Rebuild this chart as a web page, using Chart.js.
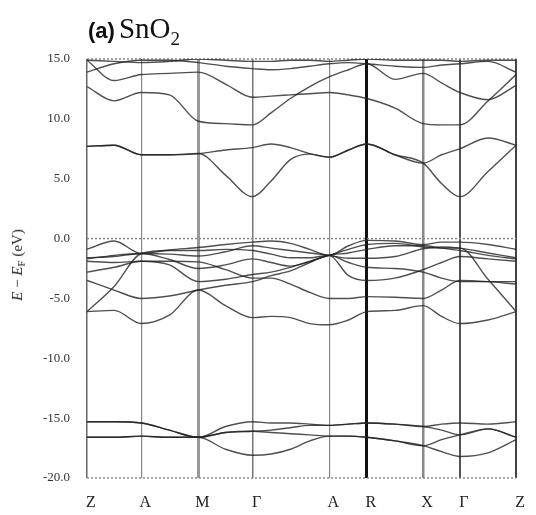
<!DOCTYPE html>
<html>
<head>
<meta charset="utf-8">
<script src="https://cdn.jsdelivr.net/npm/chart.js@4.4.1/dist/chart.umd.min.js"></script>
<style>
  html, body { margin: 0; padding: 0; background: #fff; }
  #wrap { position: relative; width: 536px; height: 515px; }
  #title { position: absolute; left: 88px; top: 12px; white-space: nowrap; line-height: 1; color: #111; }
  #title .tag { font: bold 22px "Liberation Sans", Arial, sans-serif; }
  #title .formula { font: 29px "Liberation Serif", "Times New Roman", serif; }
  #title sub { font-size: 19px; vertical-align: -7px; }
  #ylab { position: absolute; left: 18px; top: 265px; white-space: nowrap; line-height: 1;
          font: 15px "Liberation Serif", "Times New Roman", serif; color: #222;
          transform: translate(-50%, -50%) rotate(-90deg); }
  #ylab sub { font-size: 11px; vertical-align: -3px; }
</style>
</head>
<body>
<div id="wrap">
  <canvas id="bands" width="536" height="515"></canvas>
  <div id="title"><span class="tag">(a)</span> <span class="formula">SnO<sub>2</sub></span></div>
  <div id="ylab"><i>E</i> − <i>E</i><sub>F</sub> (eV)</div>
</div>
<script>
// high-symmetry points along the k path (arbitrary path length units)
const kTicks = [0, 56, 115, 171, 250, 289, 347, 385, 443];
const kLabels = ["Z", "A", "M", "Γ", "A", "R", "X", "Γ", "Z"];

const kGrid = [0, 28, 56, 85, 115, 143, 171, 190, 210, 230, 250, 270, 289, 318, 347, 366, 385, 414, 443];

// conduction bands (eV)
const cb1 = [14.9, 14.8, 14.7, 14.8, 15.0, 14.9, 14.8, 14.8, 14.9, 14.9, 14.8, 14.9, 15.0, 14.9, 14.9, 14.9, 14.8, 14.9, 14.9];
const cb2 = [13.9, 14.6, 14.9, 14.9, 14.7, 14.4, 14.2, 14.1, 14.2, 14.4, 14.6, 14.7, 14.6, 14.4, 14.3, 14.5, 14.6, 14.8, 13.9];
const cb3 = [14.9, 13.2, 13.7, 13.8, 13.9, 12.9, 11.8, 11.9, 12.0, 12.1, 12.2, 12.0, 11.7, 10.9, 9.6, 9.5, 9.5, 11.5, 13.7];
const cb4 = [12.7, 11.5, 12.2, 12.0, 9.8, 9.6, 9.5, 10.5, 11.7, 12.7, 13.5, 14.1, 14.6, 13.3, 13.8, 13.0, 12.2, 11.6, 12.8];
const cb5 = [7.7, 7.8, 7.0, 7.0, 7.1, 7.4, 7.6, 7.9, 7.6, 7.1, 6.8, 7.4, 7.9, 7.0, 6.3, 7.0, 7.5, 8.4, 7.8];
const cb6 = [7.7, 7.8, 7.0, 7.0, 7.1, 5.3, 3.5, 4.8, 6.6, 7.05, 6.8, 7.4, 7.9, 7.0, 6.3, 4.6, 3.5, 5.6, 7.8];

// valence bands (eV)
const vb1 = [-0.9, -0.2, -1.25, -0.95, -0.75, -0.5, -0.3, -0.2, -0.4, -0.9, -1.4, -0.6, -0.15, -0.2, -0.5, -0.3, -0.3, -0.5, -0.9];
const vb2 = [-1.6, -1.5, -1.25, -1.3, -1.45, -1.1, -0.6, -0.8, -1.0, -1.2, -1.4, -1.65, -1.65, -1.5, -0.85, -0.7, -0.8, -1.2, -1.6];
const vb3 = [-1.7, -1.4, -1.25, -1.75, -2.5, -2.2, -1.7, -2.0, -2.3, -1.9, -1.4, -1.2, -0.9, -0.6, -0.6, -0.8, -1.0, -1.4, -1.7];
const vb4 = [-1.9, -2.0, -1.9, -1.9, -1.95, -2.6, -3.3, -3.3, -3.8, -4.5, -5.0, -5.0, -4.85, -4.9, -5.0, -4.3, -3.5, -3.6, -3.8];
const vb5 = [-6.1, -4.0, -1.25, -1.0, -1.0, -0.9, -1.0, -1.3, -1.6, -1.6, -1.4, -3.1, -3.5, -3.3, -2.6, -2.0, -1.5, -1.7, -1.9];
const vb6 = [-3.5, -4.3, -5.0, -4.8, -4.3, -3.9, -3.6, -3.1, -2.7, -2.0, -1.4, -2.0, -2.4, -2.5, -2.8, -3.3, -3.6, -3.6, -3.6];
const vb7 = [-6.1, -6.0, -7.1, -6.4, -4.3, -5.6, -6.6, -6.5, -6.6, -7.1, -7.2, -6.8, -6.1, -6.0, -5.6, -6.5, -7.1, -6.8, -6.1];
const vb8 = [-2.8, -2.4, -1.9, -2.2, -3.6, -3.4, -3.0, -2.8, -2.4, -1.9, -1.4, -0.9, -0.5, -0.4, -0.7, -0.8, -0.8, -3.4, -6.1];

// O 2s bands (eV)
const sb1 = [-15.3, -15.3, -15.4, -16.0, -16.6, -15.7, -15.3, -15.4, -15.4, -15.5, -15.6, -15.5, -15.4, -15.5, -15.7, -15.5, -15.4, -15.5, -15.3];
const sb2 = [-16.6, -16.6, -16.5, -16.6, -16.6, -16.2, -16.1, -16.0, -15.8, -15.6, -15.6, -15.5, -15.4, -15.5, -15.7, -16.0, -16.4, -15.9, -16.6];
const sb3 = [-16.6, -16.6, -16.5, -16.6, -16.6, -17.6, -18.1, -18.0, -17.6, -16.9, -16.5, -16.5, -16.6, -16.9, -17.3, -17.8, -18.2, -17.9, -16.8];
const sb4 = [-15.3, -15.3, -15.4, -16.0, -16.6, -16.2, -16.1, -16.2, -16.3, -16.4, -16.5, -16.5, -16.6, -16.9, -17.3, -16.8, -16.4, -15.9, -16.6];

const bands = [cb1, cb2, cb3, cb4, cb5, cb6, vb1, vb2, vb3, vb4, vb5, vb6, vb7, vb8, sb1, sb2, sb3, sb4];

// look of the vertical lines at the high-symmetry points
const kLineColors = ["#666", "#888", "#999", "#777", "#888", "#111", "#888", "#555", "#444"];
const kLineWidths = [1.5, 1.2, 3, 1.5, 1.2, 3, 2.5, 2, 2];

// dotted frame top/bottom plus the Fermi level
const framePlugin = {
  id: "frame",
  beforeDatasetsDraw(chart) {
    const { ctx, chartArea: a, scales } = chart;
    const y0 = scales.y.getPixelForValue(0);
    ctx.save();
    ctx.strokeStyle = "#888";
    ctx.lineWidth = 1.5;
    ctx.setLineDash([2, 2]);
    for (const y of [a.top, y0, a.bottom]) {
      ctx.beginPath();
      ctx.moveTo(a.left, y);
      ctx.lineTo(a.right, y);
      ctx.stroke();
    }
    ctx.restore();
  },
};

new Chart(document.getElementById("bands"), {
  type: "line",
  data: {
    datasets: bands.map((b) => ({
      data: kGrid.map((k, i) => ({ x: k, y: b[i] })),
      borderColor: "rgba(35,35,35,0.8)",
      borderWidth: 1.4,
      pointRadius: 0,
      cubicInterpolationMode: "monotone",
      fill: false,
    })),
  },
  options: {
    responsive: false,
    animation: false,
    layout: { padding: { left: 0, right: 6, top: 59, bottom: 0 } },
    plugins: { legend: { display: false }, tooltip: { enabled: false } },
    scales: {
      x: {
        type: "linear",
        min: 0,
        max: 443,
        afterBuildTicks: (scale) => {
          scale.ticks = kTicks.map((v) => ({ value: v }));
        },
        afterFit: (scale) => { scale.height = 37; },
        ticks: {
          autoSkip: false,
          maxRotation: 0,
          padding: 15,
          labelOffset: 4,
          color: "#222",
          font: { family: "Liberation Serif", size: 16 },
          callback: (v, i) => kLabels[i],
        },
        grid: {
          drawTicks: false,
          color: (c) => kLineColors[c.index],
          lineWidth: (c) => kLineWidths[c.index],
        },
        border: { display: false },
      },
      y: {
        min: -20,
        max: 15,
        afterFit: (scale) => { scale.width = 87; },
        ticks: {
          stepSize: 5,
          padding: 9,
          color: "#333",
          font: { family: "Liberation Serif", size: 13 },
          callback: (v) => v.toFixed(1),
        },
        grid: { display: false },
        border: { display: false },
      },
    },
  },
  plugins: [framePlugin],
});
</script>
</body>
</html>
